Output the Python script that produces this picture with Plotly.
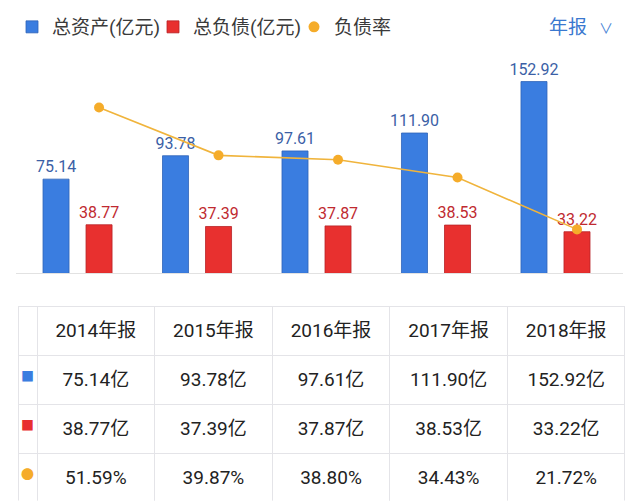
import plotly.graph_objects as go

years = ["2014年报", "2015年报", "2016年报", "2017年报", "2018年报"]
total_assets = [75.14, 93.78, 97.61, 111.90, 152.92]
total_liab = [38.77, 37.39, 37.87, 38.53, 33.22]
debt_ratio = [51.59, 39.87, 38.80, 34.43, 21.72]

BLUE = "#3a7de0"
RED = "#e8302f"
ORANGE = "#f5ac2a"
FONT = "Roboto, Noto Sans CJK SC, sans-serif"

# page has an 8px body margin; convert screen px to paper fractions
W, H = 634, 510
def fx(sx):
    return (sx - 8) / W
def fy(sy):
    return 1 - (sy - 8) / H

fig = go.Figure()

fig.add_trace(go.Bar(
    x=years, y=total_assets, name="总资产(亿元)", legend="legend",
    marker=dict(color=BLUE, line=dict(color="#2f63b8", width=0.8)),
    text=[f"{v:.2f}" for v in total_assets], textposition="outside",
    textfont=dict(color="#3b5fa6", size=16, family=FONT),
    constraintext="none", cliponaxis=False,
))
fig.add_trace(go.Bar(
    x=years, y=total_liab, name="总负债(亿元)", legend="legend2",
    marker=dict(color=RED, line=dict(color="#b82226", width=0.8)),
    text=[f"{v:.2f}" for v in total_liab], textposition="outside",
    textfont=dict(color="#c02a30", size=16, family=FONT),
    constraintext="none", cliponaxis=False,
))
fig.add_trace(go.Scatter(
    x=years, y=debt_ratio, name="负债率", mode="lines+markers",
    line=dict(color="#f0b43c", width=1.6),
    marker=dict(color=ORANGE, size=10),
    xaxis="x2", yaxis="y2", showlegend=False, cliponaxis=False,
))
fig.add_trace(go.Scatter(
    x=[None], y=[None], name="负债率", mode="markers", legend="legend3",
    marker=dict(color=ORANGE, size=11), xaxis="x2", yaxis="y2",
))

# table: grid layer
n = len(years)
LINE = "#e4e4e8"
fig.add_trace(go.Table(
    domain=dict(x=[fx(18), fx(625)], y=[fy(501), fy(304)]),
    columnwidth=[19] + [117.6] * n,
    header=dict(values=[""] * (n + 1), fill_color="white", line_color=LINE, height=49),
    cells=dict(values=[[""] * 3] * (n + 1), fill_color="white", line_color=LINE, height=49),
))

# table: text layer (shifted down to centre text vertically in rows)
first_col = ["■", "■", "●"]
cols = [first_col]
for i in range(n):
    cols.append([f"{total_assets[i]:.2f}亿", f"{total_liab[i]:.2f}亿", f"{debt_ratio[i]:.2f}%"])

fig.add_trace(go.Table(
    domain=dict(x=[fx(18), fx(625)], y=[fy(509), fy(312)]),
    columnwidth=[19] + [117.6] * n,
    header=dict(
        values=[""] + years,
        fill_color="rgba(0,0,0,0)", line_color="rgba(0,0,0,0)",
        font=dict(size=19, color="#222222", family=FONT),
        align="center", height=49,
    ),
    cells=dict(
        values=cols,
        fill_color="rgba(0,0,0,0)", line_color="rgba(0,0,0,0)",
        font=dict(family=FONT,
                  size=[13] + [19] * n,
                  color=[[BLUE, RED, ORANGE]] + [["#222222"] * 3] * n),
        align="center", height=49,
    ),
))

x_lo, x_hi = -0.515, 4.565
shift = 0.18

def leg(sx):
    return dict(orientation="h", x=fx(sx), xanchor="left", y=fy(21), yanchor="middle",
                font=dict(size=19, color="#3a3a3a", family=FONT),
                itemwidth=30, bgcolor="rgba(0,0,0,0)", borderwidth=0)

fig.update_layout(
    width=W, height=H,
    margin=dict(l=0, r=0, t=0, b=0),
    paper_bgcolor="white", plot_bgcolor="white",
    barmode="group", bargap=0.28, bargroupgap=0.395,
    font=dict(family=FONT, color="#333333"),
    xaxis=dict(domain=[fx(16), fx(623)], type="category", range=[x_lo, x_hi],
               showticklabels=False, showgrid=False, zeroline=False,
               showline=True, linecolor="#e2e2e2", linewidth=1, ticks=""),
    yaxis=dict(domain=[fy(270.5), fy(60)], range=[0, 165.8],
               visible=False, showgrid=False, zeroline=False),
    xaxis2=dict(domain=[fx(16), fx(623)], type="category", overlaying="x",
                range=[x_lo - shift, x_hi - shift], visible=False),
    yaxis2=dict(domain=[fy(270.5), fy(60)], overlaying="y",
                range=[10.93, 61.92], visible=False),
    legend=leg(12), legend2=leg(153), legend3=leg(294),
    showlegend=True,
    annotations=[dict(text="年报", x=fx(568), y=fy(22), xref="paper", yref="paper",
                      xanchor="center", yanchor="middle",
                      showarrow=False, font=dict(size=19, color="#3a78cf", family=FONT)),
                 dict(text="∨", x=fx(606), y=fy(22), xref="paper", yref="paper",
                      xanchor="center", yanchor="middle",
                      showarrow=False, font=dict(size=14, color="#4a84d6", family=FONT))],
)

fig.write_html("out.html")
